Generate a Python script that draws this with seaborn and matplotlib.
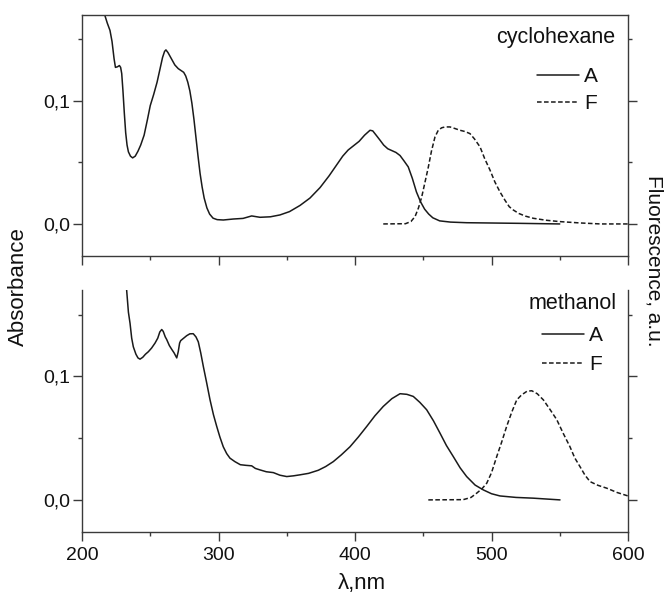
import matplotlib
matplotlib.use("Agg")
import matplotlib.pyplot as plt
from matplotlib.ticker import MultipleLocator, FuncFormatter
import seaborn as sns

# ---- data ----
cyc_abs_nm = [216.8, 218.5, 220.5, 222.0, 223.5, 224.5, 226.0, 227.4, 228.3, 229.1, 230.0,
              231.0, 232.0, 233.0, 234.0, 235.5, 237.1, 239.0, 241.0, 243.0, 245.5, 248.0,
              250.0, 252.5, 255.0, 257.0, 259.0, 260.5, 261.5, 263.0, 264.5, 266.0, 268.0,
              270.5, 272.5, 274.5, 276.0, 277.5, 279.0, 280.5, 282.0, 283.5, 285.0, 286.5,
              288.0, 289.5, 291.5, 293.5, 296.0, 299.0, 303.5, 310.8, 318.0, 324.3, 330.4,
              338.0, 345.0, 352.0, 359.7, 367.0, 374.4, 381.0, 386.0, 391.0, 395.0, 399.0,
              403.0, 407.0, 411.0, 413.0, 415.5, 418.3, 421.0, 424.0, 427.0, 430.0, 433.0,
              436.0, 439.0, 442.0, 445.0, 448.0, 451.0, 454.0, 457.0, 462.0, 470.0, 481.8,
              520.0, 550.0]
cyc_abs = [0.169, 0.163, 0.157, 0.148, 0.134, 0.127, 0.1275, 0.1285, 0.127, 0.122, 0.108,
           0.090, 0.074, 0.064, 0.0585, 0.055, 0.0536, 0.055, 0.059, 0.064, 0.072, 0.085,
           0.096, 0.105, 0.115, 0.125, 0.135, 0.140, 0.1412, 0.139, 0.136, 0.133, 0.129,
           0.126, 0.1245, 0.123, 0.120, 0.115, 0.108, 0.098, 0.085, 0.070, 0.055, 0.041,
           0.030, 0.021, 0.013, 0.008, 0.0047, 0.0035, 0.0032, 0.0040, 0.0045, 0.0065, 0.0054,
           0.0058, 0.0073, 0.0100, 0.0150, 0.0210, 0.0295, 0.039, 0.047, 0.055, 0.060, 0.0635,
           0.067, 0.072, 0.076, 0.0755, 0.072, 0.068, 0.064, 0.061, 0.0595, 0.058, 0.0555,
           0.051, 0.0463, 0.037, 0.026, 0.018, 0.012, 0.008, 0.005, 0.0025, 0.0015, 0.001,
           0.0005, 0.0]

cyc_fl_nm = [420.7, 437.0, 441.0, 444.0, 446.5, 448.9, 451.3, 453.7, 456.0, 458.6, 461.0,
             463.5, 466.0, 469.6, 473.0, 476.9, 480.5, 484.2, 487.5, 491.6, 495.0, 498.9,
             502.5, 506.2, 510.0, 513.0, 516.0, 520.0, 525.0, 530.6, 540.0, 550.0, 565.0,
             580.0, 600.0]
cyc_fl = [0.0, 0.0002, 0.002, 0.006, 0.013, 0.022, 0.034, 0.046, 0.059, 0.0706, 0.076,
          0.078, 0.0787, 0.0787, 0.0775, 0.076, 0.075, 0.0733, 0.069, 0.0625, 0.053, 0.0437,
          0.034, 0.026, 0.019, 0.014, 0.0113, 0.0085, 0.0063, 0.0046, 0.003, 0.0019, 0.0008,
          0.0, 0.0]

met_abs_nm = [232.7, 234.0, 235.2, 236.4, 237.6, 239.5, 241.0, 242.5, 244.5, 246.5, 248.6,
              251.0, 253.5, 255.5, 257.0, 258.4, 259.5, 261.0, 262.0, 264.0, 265.7, 267.5,
              269.4, 270.5, 271.5, 272.3, 274.5, 276.7, 279.0, 281.5, 283.5, 285.2, 287.0,
              288.9, 291.3, 293.8, 296.3, 298.7, 301.0, 303.5, 306.0, 308.4, 312.0, 316.0,
              320.0, 324.3, 327.0, 330.4, 335.0, 340.2, 345.0, 350.0, 355.0, 359.7, 366.0,
              373.1, 378.5, 384.1, 390.0, 396.3, 402.5, 408.6, 414.5, 420.7, 427.0, 433.0,
              438.0, 442.7, 447.5, 452.5, 457.5, 462.3, 467.0, 472.0, 477.0, 481.8, 488.0,
              494.0, 500.0, 506.2, 518.0, 530.6, 550.2]
met_abs = [0.170, 0.152, 0.143, 0.131, 0.124, 0.118, 0.115, 0.114, 0.1155, 0.118, 0.120,
           0.123, 0.127, 0.131, 0.136, 0.138, 0.1365, 0.132, 0.130, 0.125, 0.122, 0.119,
           0.115, 0.120, 0.127, 0.129, 0.131, 0.133, 0.1345, 0.1346, 0.132, 0.128, 0.119,
           0.108, 0.095, 0.081, 0.069, 0.0595, 0.051, 0.043, 0.0375, 0.0338, 0.031, 0.0285,
           0.028, 0.0276, 0.0255, 0.0243, 0.0228, 0.0221, 0.020, 0.0189, 0.0195, 0.0203, 0.0215,
           0.024, 0.027, 0.031, 0.0365, 0.043, 0.051, 0.0595, 0.068, 0.0757, 0.082, 0.086,
           0.0855, 0.0838, 0.079, 0.073, 0.064, 0.054, 0.044, 0.0351, 0.026, 0.0189, 0.012,
           0.0081, 0.005, 0.0032, 0.002, 0.0014, 0.0]

met_fl_nm = [453.7, 479.3, 485.0, 489.1, 493.0, 496.5, 500.0, 503.8, 507.5, 511.1, 514.8,
             518.5, 522.0, 526.0, 529.5, 533.5, 538.0, 543.0, 547.8, 552.5, 557.5, 561.0,
             564.8, 568.5, 572.2, 578.0, 584.4, 592.0, 600.0]
met_fl = [0.0, 0.0002, 0.002, 0.0054, 0.009, 0.0135, 0.022, 0.035, 0.047, 0.0595, 0.071,
          0.081, 0.085, 0.088, 0.0884, 0.086, 0.081, 0.073, 0.065, 0.054, 0.043, 0.034,
          0.027, 0.020, 0.0148, 0.0118, 0.0095, 0.006, 0.0032]

solvents = ["cyclohexane", "methanol"]
legend_labels = ["A", "F"]
x_ticks = [200, 300, 400, 500, 600]

# ---- style ----
sns.set_theme(style="ticks")
plt.rcParams["font.family"] = ["Liberation Sans", "DejaVu Sans"]
plt.rcParams["font.size"] = 14

line_col = "#1a1a1a"
spine_col = "#3a3a3a"
text_col = "#111111"

fig = plt.figure(figsize=(6.65, 5.98), dpi=100)
W, H = 665, 598
ax_top = fig.add_axes([82 / W, 1 - 256 / H, (628 - 82) / W, (256 - 15) / H])
ax_bot = fig.add_axes([82 / W, 1 - 532 / H, (628 - 82) / W, (532 - 290) / H])

panels = [
    (ax_top, cyc_abs_nm, cyc_abs, cyc_fl_nm, cyc_fl, solvents[0], (-0.026, 0.1695)),
    (ax_bot, met_abs_nm, met_abs, met_fl_nm, met_fl, solvents[1], (-0.026, 0.170)),
]

comma = FuncFormatter(lambda v, p: f"{v:.1f}".replace(".", ","))

for i, (ax, anm, a, fnm, f, name, ylim) in enumerate(panels):
    sns.lineplot(x=anm, y=a, ax=ax, color=line_col, lw=1.1, label=legend_labels[0])
    sns.lineplot(x=fnm, y=f, ax=ax, color=line_col, lw=1.1, label=legend_labels[1],
                 linestyle=(0, (3, 1.6)))
    ax.set_xlim(200, 600)
    ax.set_ylim(*ylim)
    ax.xaxis.set_major_locator(MultipleLocator(100))
    ax.xaxis.set_minor_locator(MultipleLocator(50))
    ax.yaxis.set_major_locator(MultipleLocator(0.1))
    ax.yaxis.set_minor_locator(MultipleLocator(0.05))
    ax.yaxis.set_major_formatter(comma)
    ax.tick_params(axis="both", which="major", direction="out", length=6.5, width=1.0,
                   color=spine_col, labelsize=14, labelcolor=text_col)
    ax.tick_params(axis="both", which="minor", direction="out", length=3.2, width=1.0,
                   color=spine_col)
    ax.tick_params(axis="y", which="both", left=True, right=True, labelright=False, pad=2)
    ax.tick_params(axis="x", which="both", pad=4)
    for s in ax.spines.values():
        s.set_color(spine_col)
        s.set_linewidth(1.0)
    ax.set_xlabel("")
    ax.set_ylabel("")

    if i == 0:
        ax.tick_params(axis="x", labelbottom=False)
        ax.text(0.976, 0.905, name, transform=ax.transAxes, ha="right", va="center",
                fontsize=15.5, color=text_col)
        leg = ax.legend(loc="upper right", bbox_to_anchor=(0.945, 0.785), frameon=False,
                        fontsize=15, handlelength=2.0, handletextpad=0.25, labelspacing=0.39,
                        borderpad=0, borderaxespad=0)
    else:
        ax.spines["top"].set_visible(False)
        ax.set_xticks(x_ticks)
        ax.text(0.98, 0.946, name, transform=ax.transAxes, ha="right", va="center",
                fontsize=15.5, color=text_col)
        leg = ax.legend(loc="upper right", bbox_to_anchor=(0.954, 0.85), frameon=False,
                        fontsize=15, handlelength=2.0, handletextpad=0.25, labelspacing=0.47,
                        borderpad=0, borderaxespad=0)
    for t in leg.get_texts():
        t.set_color(text_col)
    for lh in leg.get_lines():
        lh.set_linewidth(1.1)

fig.text(18 / W, 1 - 287 / H, "Absorbance", rotation=90, ha="center", va="center",
         fontsize=16, color=text_col)
fig.text(654 / W, 1 - 261 / H, "Fluorescence, a.u.", rotation=270, ha="center", va="center",
         fontsize=15, color=text_col)
fig.text(362 / W, 1 - 584 / H, "λ,nm", ha="center", va="center", fontsize=16, color=text_col)

fig.savefig("out.png", dpi=100)
